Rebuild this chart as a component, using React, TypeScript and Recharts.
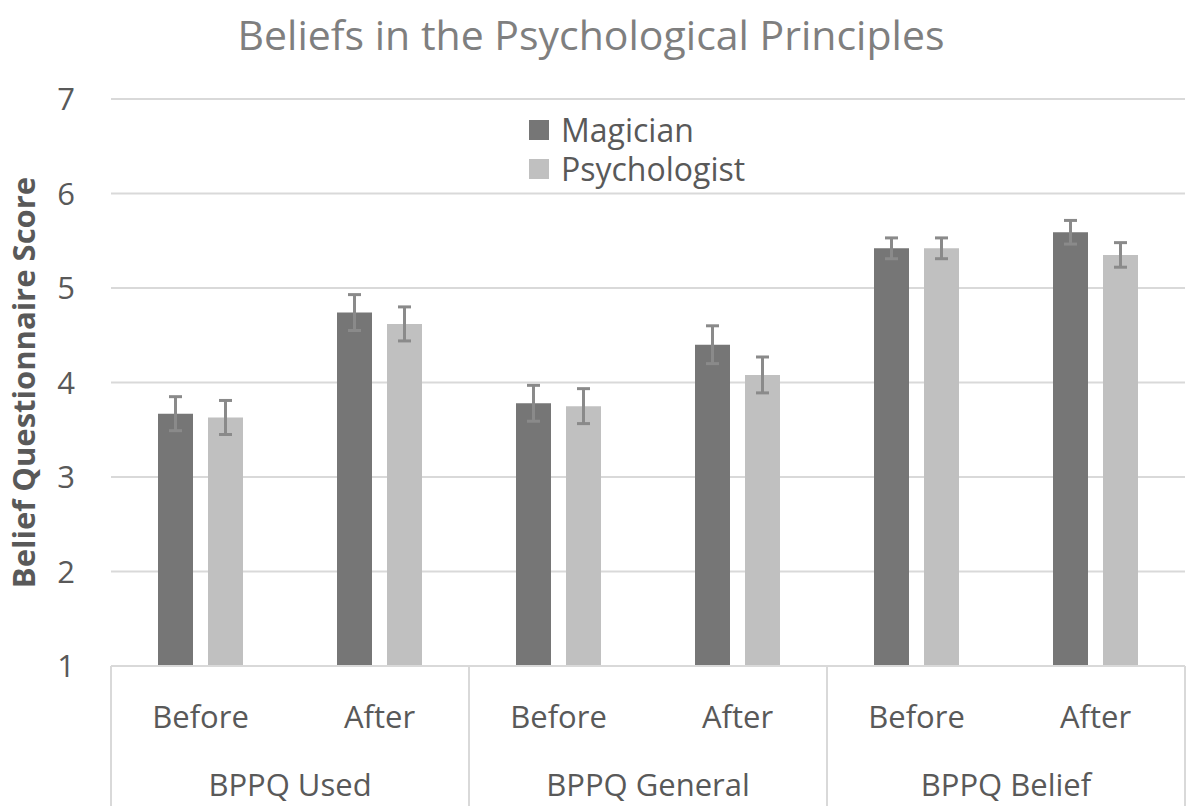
import React from 'react';
import { BarChart, Bar, XAxis, YAxis, CartesianGrid, Legend, ErrorBar } from 'recharts';

// ---- data ----
const phases = ['Before', 'After', 'Before', 'After', 'Before', 'After'];
const groups = ['BPPQ Used', 'BPPQ Used', 'BPPQ General', 'BPPQ General', 'BPPQ Belief', 'BPPQ Belief'];
const magician = [3.67, 4.74, 3.78, 4.4, 5.42, 5.59];
const psychologist = [3.63, 4.62, 3.75, 4.08, 5.42, 5.35];
const magicianErr = [0.18, 0.19, 0.19, 0.2, 0.11, 0.125];
const psychologistErr = [0.18, 0.18, 0.185, 0.19, 0.11, 0.13];
const yTicks = [1, 2, 3, 4, 5, 6, 7];
const seriesNames = ['Magician', 'Psychologist'];
const titleText = 'Beliefs in the Psychological Principles';
const yLabelText = 'Belief Questionnaire Score';

// ---- layout / style ----
const W = 1189;
const H = 806;
const Y_AXIS_W = 111;
const MARGIN = { top: 99, right: 4, bottom: 0, left: 0 };
const X_AXIS_H = 140;
const BAND = (W - MARGIN.right - Y_AXIS_W - MARGIN.left) / phases.length;
const FONT = "'Open Sans', sans-serif";
const TEXT = '#595959';
const GRID = '#d9d9d9';
const DARK = '#767676';
const LIGHT = '#c0c0c0';
const ERR = '#8a8a8a';

const data = phases.map((p, i) => ({
  phase: p,
  group: groups[i],
  magician: magician[i],
  psychologist: psychologist[i],
  magicianErr: magicianErr[i],
  psychologistErr: psychologistErr[i],
}));

const XTick = (props: any) => {
  const { x, y, payload } = props;
  const i = props.index ?? payload.index;
  const half = BAND / 2;
  return (
    <g>
      <text x={x} y={y + 50} textAnchor="middle" dominantBaseline="central" fontSize={31} fill={TEXT} fontFamily={FONT}>
        {payload.value}
      </text>
      {i % 2 === 0 && (
        <text x={x + half} y={y + 118} textAnchor="middle" dominantBaseline="central" fontSize={31} fill={TEXT} fontFamily={FONT}>
          {groups[i]}
        </text>
      )}
      {i % 2 === 0 && <line x1={x - half} x2={x - half} y1={y} y2={y + X_AXIS_H} stroke={GRID} strokeWidth={2} />}
      {i === phases.length - 1 && <line x1={x + half} x2={x + half} y1={y} y2={y + X_AXIS_H} stroke={GRID} strokeWidth={2} />}
    </g>
  );
};

const renderLegend = (props: any) => {
  const payload = props.payload || [];
  return (
    <div style={{ fontFamily: FONT, fontSize: 32, color: TEXT }}>
      {payload.map((entry: any) => (
        <div key={entry.value} style={{ display: 'flex', alignItems: 'center', height: 39, whiteSpace: 'nowrap' }}>
          <span style={{ display: 'inline-block', width: 20, height: 20, background: entry.color, marginRight: 12 }} />
          <span>{entry.value}</span>
        </div>
      ))}
    </div>
  );
};

export default function App() {
  return (
    <div style={{ position: 'absolute', left: 0, top: 0, width: W, height: H, background: '#fff' }}>
      <svg width={W} height={62} style={{ position: 'absolute', left: 0, top: 0 }}>
        <text x={591} y={50} textAnchor="middle" fontSize={41} fill="#7f7f7f" fontFamily={FONT}>
          {titleText}
        </text>
      </svg>
      <div style={{ position: 'absolute', left: 0, top: 0 }}>
        <BarChart width={W} height={H} data={data} margin={MARGIN} barSize={35} barGap={15}>
          <CartesianGrid vertical={false} stroke={GRID} strokeWidth={2} />
          <XAxis
            dataKey="phase"
            height={X_AXIS_H}
            interval={0}
            tickLine={false}
            tickSize={0}
            tickMargin={0}
            axisLine={{ stroke: GRID, strokeWidth: 2 }}
            tick={<XTick />}
          />
          <YAxis
            width={Y_AXIS_W}
            domain={[1, 7]}
            ticks={yTicks}
            interval={0}
            axisLine={false}
            tickLine={false}
            tickSize={0}
            tickMargin={36}
            tick={{ fontSize: 31, fill: TEXT, fontFamily: FONT }}
            label={{
              value: yLabelText,
              angle: -90,
              position: 'center',
              dx: -32,
              fontSize: 31,
              fontWeight: 'bold',
              fill: TEXT,
              fontFamily: FONT,
            }}
          />
          <Legend
            layout="vertical"
            align="center"
            verticalAlign="middle"
            wrapperStyle={{ left: 529, top: 110, width: 'auto', height: 'auto' }}
            content={renderLegend}
          />
          <Bar dataKey="magician" name={seriesNames[0]} fill={DARK} isAnimationActive={false}>
            <ErrorBar dataKey="magicianErr" width={6.5} strokeWidth={3} stroke={ERR} direction="y" isAnimationActive={false} />
          </Bar>
          <Bar dataKey="psychologist" name={seriesNames[1]} fill={LIGHT} isAnimationActive={false}>
            <ErrorBar dataKey="psychologistErr" width={6.5} strokeWidth={3} stroke={ERR} direction="y" isAnimationActive={false} />
          </Bar>
        </BarChart>
      </div>
    </div>
  );
}
